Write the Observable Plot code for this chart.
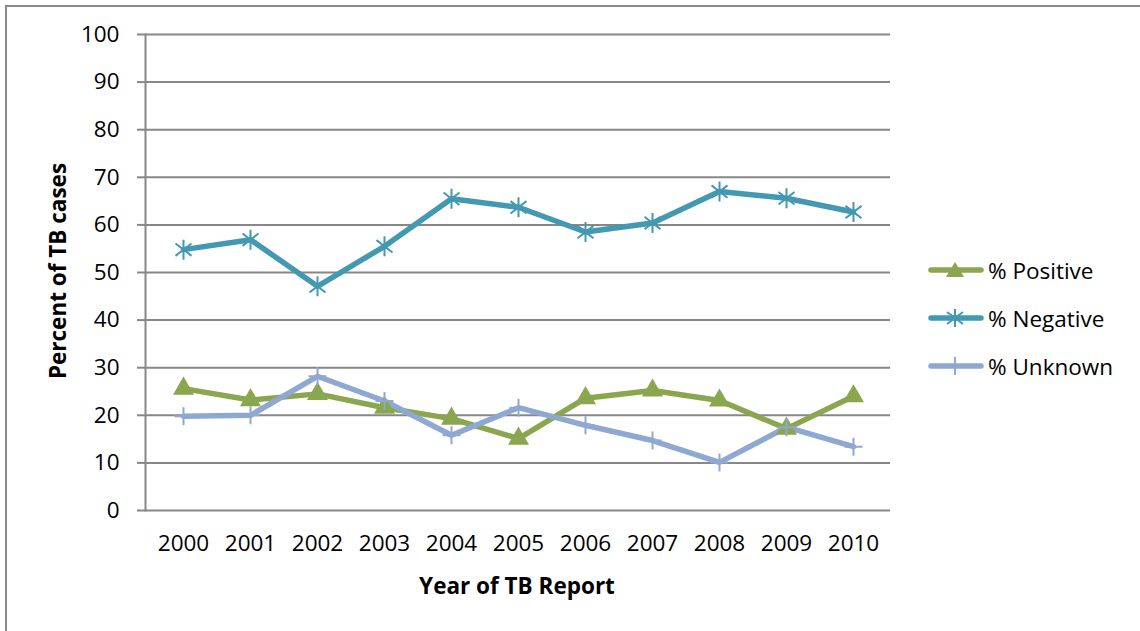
<!DOCTYPE html>
<html>
<head>
<meta charset="utf-8">
<script src="https://cdn.jsdelivr.net/npm/d3@7"></script>
<script src="https://cdn.jsdelivr.net/npm/@observablehq/plot@0.6"></script>
<style>
  body { margin: 0; background: #fff; }
  #wrap { position: relative; width: 1140px; height: 631px; overflow: hidden; background: #fff; font-family: "Open Sans", sans-serif; }
  #border { position: absolute; left: 5px; top: 5px; width: 1300px; height: 800px; border: 2px solid #8a8a8a; }
  #chart { position: absolute; left: 0; top: 0; }
  .ytitle { position: absolute; left: 57px; top: 271px; transform: translate(-50%, -50%) rotate(-90deg); font-weight: bold; font-size: 22.5px; white-space: nowrap; color: #000; }
  .xtitle { position: absolute; left: 517px; top: 585px; transform: translate(-50%, -50%); font-weight: bold; font-size: 22.5px; white-space: nowrap; color: #000; }
  #legend { position: absolute; left: 928px; top: 246px; }
  .item { display: flex; align-items: center; height: 48px; font-size: 22.5px; color: #000; }
  .item svg { margin-right: 4px; }
</style>
</head>
<body>
<div id="wrap">
  <div id="border"></div>
  <div id="chart"></div>
  <div class="ytitle">Percent of TB cases</div>
  <div class="xtitle">Year of TB Report</div>
  <div id="legend"></div>
</div>
<script>
const years = ["2000","2001","2002","2003","2004","2005","2006","2007","2008","2009","2010"];
const positive = [25.6, 23.2, 24.5, 21.6, 19.3, 15.1, 23.6, 25.2, 23.1, 17.2, 24.0];
const negative = [54.8, 56.9, 47.1, 55.5, 65.5, 63.7, 58.5, 60.4, 67.0, 65.6, 62.7];
const unknown  = [19.8, 20.0, 28.2, 23.0, 15.8, 21.6, 17.9, 14.7, 10.1, 17.5, 13.4];
const seriesNames = ["% Positive", "% Negative", "% Unknown"];
const seriesColors = ["#8aa64e", "#4399b1", "#8fa8d2"];
const yTicks = [0,10,20,30,40,50,60,70,80,90,100];

const seriesValues = [positive, negative, unknown];
const data = [];
seriesNames.forEach((s, i) => years.forEach((y, j) => data.push({series: s, year: y, value: seriesValues[i][j]})));

const starSymbol = {draw(ctx, size) {
  const r = Math.sqrt(size / Math.PI);
  ctx.moveTo(0, -r); ctx.lineTo(0, r);
  const d = r * 0.8, e = r * 0.62;
  ctx.moveTo(-d, -e); ctx.lineTo(d, e);
  ctx.moveTo(-d, e); ctx.lineTo(d, -e);
}};
const plusSymbol = {draw(ctx, size) {
  const r = Math.sqrt(size / Math.PI);
  ctx.moveTo(0, -r); ctx.lineTo(0, r);
  ctx.moveTo(-r, 0); ctx.lineTo(r, 0);
}};

const byS = s => data.filter(d => d.series === s);

const chart = Plot.plot({
  width: 1140,
  height: 631,
  marginLeft: 145,
  marginRight: 250,
  marginTop: 34,
  marginBottom: 121,
  style: {fontFamily: "Open Sans, sans-serif", fontSize: "22.5px", color: "#000", background: "transparent", overflow: "visible"},
  x: {type: "point", domain: years, padding: 0.5},
  y: {domain: [0, 100]},
  color: {domain: seriesNames, range: seriesColors},
  marks: [
    Plot.gridY(yTicks, {stroke: "#878787", strokeOpacity: 1, strokeWidth: 2}),
    Plot.axisY(yTicks, {tickSize: 8, tickPadding: 18, stroke: "#878787", strokeWidth: 2, label: null, fill: "#000"}),
    Plot.axisX({tickSize: 0, tickPadding: 25, label: null, fill: "#000"}),
    Plot.frame({anchor: "left", stroke: "#878787", strokeWidth: 2}),
    Plot.line(data, {x: "year", y: "value", z: "series", stroke: "series", strokeWidth: 5.5, strokeLinejoin: "miter"}),
    Plot.dot(byS("% Positive"), {x: "year", y: "value", symbol: "triangle", r: 7.8, fill: seriesColors[0], stroke: "none"}),
    Plot.dot(byS("% Negative"), {x: "year", y: "value", symbol: starSymbol, r: 10, fill: "none", stroke: seriesColors[1], strokeWidth: 2}),
    Plot.dot(byS("% Unknown"), {x: "year", y: "value", symbol: plusSymbol, r: 9, fill: "none", stroke: seriesColors[2], strokeWidth: 2})
  ]
});
document.getElementById("chart").appendChild(chart);

// legend
const legendShapes = [
  c => `<path d="M27,2 L36,17 L18,17 Z" fill="${c}"/>`,
  c => `<path d="M27,1 L27,19 M19,4 L35,16 M19,16 L35,4" stroke="${c}" stroke-width="2" fill="none"/>`,
  c => `<path d="M27,1 L27,19" stroke="${c}" stroke-width="2" fill="none"/>`
];
const legend = document.getElementById("legend");
seriesNames.forEach((s, i) => {
  const div = document.createElement("div");
  div.className = "item";
  div.innerHTML = `<svg width="56" height="20"><line x1="3" y1="10" x2="53" y2="10" stroke="${seriesColors[i]}" stroke-width="5.5" stroke-linecap="round"/>${legendShapes[i](seriesColors[i])}</svg><span>${s}</span>`;
  legend.appendChild(div);
});
</script>
</body>
</html>
